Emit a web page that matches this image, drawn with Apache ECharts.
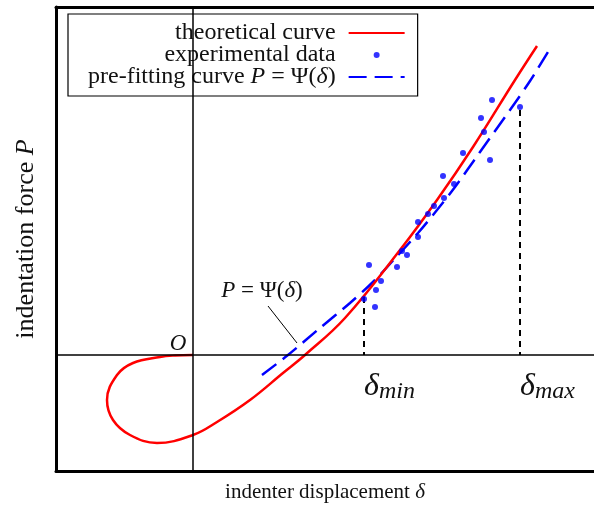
<!DOCTYPE html>
<html><head><meta charset="utf-8">
<script src="https://cdn.jsdelivr.net/npm/echarts@6/dist/echarts.min.js"></script>
<style>html,body{margin:0;padding:0;background:#fff}#c{width:594px;height:514px}</style>
</head><body><div id="c"></div>
<script>
// theoretical curve (parametric loop through the origin)
const theoreticalCurve = [
  [0, 0], [-0.18, -0.005], [-0.33, -0.02], [-0.60, -0.08], [-0.76, -0.20], [-0.86, -0.45],
  [-0.80, -0.65], [-0.63, -0.80], [-0.36, -0.88], [0, -0.80], [0.24, -0.67], [0.57, -0.45],
  [0.90, -0.18], [1.12, 0], [1.52, 0.37], [2.07, 1.05], [2.44, 1.55], [2.80, 2.08],
  [3.22, 2.75], [3.44, 3.09]
];
// pre-fitting curve P = Psi(delta)
const preFitCurve = [
  [0.69, -0.20], [0.95, 0], [1.27, 0.27], [1.57, 0.52], [1.82, 0.75], [2.05, 1.00],
  [2.25, 1.22], [2.44, 1.45], [2.62, 1.68], [2.87, 2.03], [3.17, 2.45], [3.37, 2.74], [3.55, 3.03]
];
// experimental data points
const experimentalData = [
  [2.99, 2.55], [2.88, 2.37], [2.91, 2.23], [2.97, 1.95], [2.70, 2.02], [2.50, 1.79],
  [2.61, 1.71], [2.51, 1.57], [2.41, 1.49], [2.35, 1.41], [2.25, 1.33], [2.25, 1.18],
  [2.09, 1.04], [2.14, 1.00], [2.04, 0.88], [1.76, 0.90], [1.88, 0.74], [1.83, 0.65],
  [1.71, 0.56], [1.82, 0.48], [3.27, 2.48]
];
// fitting window and annotations
const deltaMin = [1.71, 0.58];
const deltaMax = [3.27, 2.45];
const psiLeader = [[0.75, 0.49], [1.04, 0.12]];
const psiLabelAt = [0.69, 0.64];
const originLabelAt = [-0.15, 0.11];
const xRange = [-1.37, 4.01];
const yRange = [-1.16, 3.48];
const seriesNames = ['theoretical curve', 'experimental data', 'pre-fitting curve P = Ψ(δ)'];

const FF = "'Liberation Serif', 'Times New Roman', serif";
const chart = echarts.init(document.getElementById('c'), null, {renderer: 'canvas'});
const legendRich = {
  n: {fontFamily: FF, fontSize: 24, lineHeight: 21, color: '#111'},
  i: {fontFamily: FF, fontSize: 24, lineHeight: 21, fontStyle: 'italic', color: '#111'}
};
const annoRich = {
  n: {fontFamily: FF, fontSize: 23, color: '#111'},
  i: {fontFamily: FF, fontSize: 23, fontStyle: 'italic', color: '#111'}
};
const deltaRich = {
  d: {fontFamily: FF, fontSize: 32, fontStyle: 'italic', color: '#111'},
  s: {fontFamily: FF, fontSize: 24, fontStyle: 'italic', color: '#111', padding: [9, 0, 0, 0]}
};
const blackLine = {color: '#000', width: 1.5, type: 'solid'};
const option = {
  animation: false,
  backgroundColor: '#fff',
  grid: {left: 56, right: 0, top: 7, bottom: 43, outerBoundsMode: 'none', containLabel: false},
  legend: {
    left: 68, top: 14, orient: 'vertical', align: 'right',
    itemWidth: 56, itemHeight: 6, itemGap: -2,
    padding: [7, 12, 7, 20],
    borderColor: '#000', borderWidth: 1.2, backgroundColor: '#fff', borderRadius: 0,
    selectedMode: false,
    data: [
      {name: seriesNames[0], itemStyle: {opacity: 0}},
      {name: seriesNames[1]},
      {name: seriesNames[2], itemStyle: {opacity: 0}}
    ],
    textStyle: {fontFamily: FF, fontSize: 24, color: '#111', lineHeight: 21, padding: [0, 8, 0, 0], rich: legendRich},
    formatter: function (name) {
      if (name === seriesNames[2]) return '{n|pre-fitting curve }{i|P}{n| = Ψ(}{i|δ}{n|)}';
      return '{n|' + name + '}';
    }
  },
  xAxis: [{
    type: 'value', min: xRange[0], max: xRange[1], position: 'bottom',
    axisLine: {show: true, onZero: false, lineStyle: {color: '#000', width: 3}},
    axisTick: {show: false}, axisLabel: {show: false}, splitLine: {show: false},
    name: '{n|indenter displacement }{i|δ}', nameLocation: 'middle', nameGap: 11,
    nameTextStyle: {rich: {
      n: {fontFamily: FF, fontSize: 21, color: '#111'},
      i: {fontFamily: FF, fontSize: 21, fontStyle: 'italic', color: '#111'}
    }}
  }, {
    type: 'value', min: xRange[0], max: xRange[1], position: 'top',
    axisLine: {show: true, onZero: false, lineStyle: {color: '#000', width: 3}},
    axisTick: {show: false}, axisLabel: {show: false}, splitLine: {show: false}
  }],
  yAxis: {
    type: 'value', min: yRange[0], max: yRange[1],
    axisLine: {show: true, onZero: false, lineStyle: {color: '#000', width: 3}},
    axisTick: {show: false}, axisLabel: {show: false}, splitLine: {show: false},
    name: '{n|indentation force }{i|P}', nameLocation: 'middle', nameGap: 17,
    nameTextStyle: {rich: {
      n: {fontFamily: FF, fontSize: 26, color: '#111'},
      i: {fontFamily: FF, fontSize: 26, fontStyle: 'italic', color: '#111'}
    }}
  },
  series: [
    {
      name: 'annotations', type: 'line', data: [], z: 1, silent: true, symbol: 'none',
      markLine: {
        silent: true, symbol: ['none', 'none'], animation: false,
        label: {show: false},
        lineStyle: blackLine,
        data: [
          {xAxis: 0, lineStyle: blackLine},
          {yAxis: 0, lineStyle: blackLine},
          [{coord: deltaMin, lineStyle: {color: '#000', width: 2, type: [6, 5]}}, {coord: [deltaMin[0], 0]}],
          [{coord: deltaMax, lineStyle: {color: '#000', width: 2, type: [6, 5]}}, {coord: [deltaMax[0], 0]}],
          [{coord: psiLeader[0], lineStyle: {color: '#000', width: 1, type: 'solid'}}, {coord: psiLeader[1]}]
        ]
      },
      markPoint: {
        silent: true, symbol: 'circle', symbolSize: 0, animation: false,
        itemStyle: {color: 'rgba(0,0,0,0)'},
        data: [
          {coord: originLabelAt, label: {show: true, position: 'inside', formatter: '{i|O}', rich: annoRich}},
          {coord: psiLabelAt, label: {show: true, position: 'inside', formatter: '{i|P}{n| = Ψ(}{i|δ}{n|)}', rich: annoRich}},
          {coord: [deltaMin[0], 0], label: {show: true, position: 'right', distance: 0, offset: [0, 32], formatter: '{d|δ}{s|min}', rich: deltaRich}},
          {coord: [deltaMax[0], 0], label: {show: true, position: 'right', distance: 0, offset: [0, 32], formatter: '{d|δ}{s|max}', rich: deltaRich}}
        ]
      }
    },
    {
      name: seriesNames[2], type: 'line', data: preFitCurve, smooth: 0.3, symbol: 'none', z: 3,
      lineStyle: {color: '#0000ff', width: 2.5, type: [18, 8]}, itemStyle: {color: '#0000ff'}
    },
    {
      name: seriesNames[0], type: 'line', data: theoreticalCurve, smooth: 0.4, symbol: 'none', z: 4,
      lineStyle: {color: '#ff0000', width: 2.5}, itemStyle: {color: '#ff0000'}
    },
    {
      name: seriesNames[1], type: 'scatter', data: experimentalData, symbol: 'circle', symbolSize: 6, z: 5,
      itemStyle: {color: '#0000ff'}
    }
  ]
};
chart.setOption(option);
</script></body></html>
